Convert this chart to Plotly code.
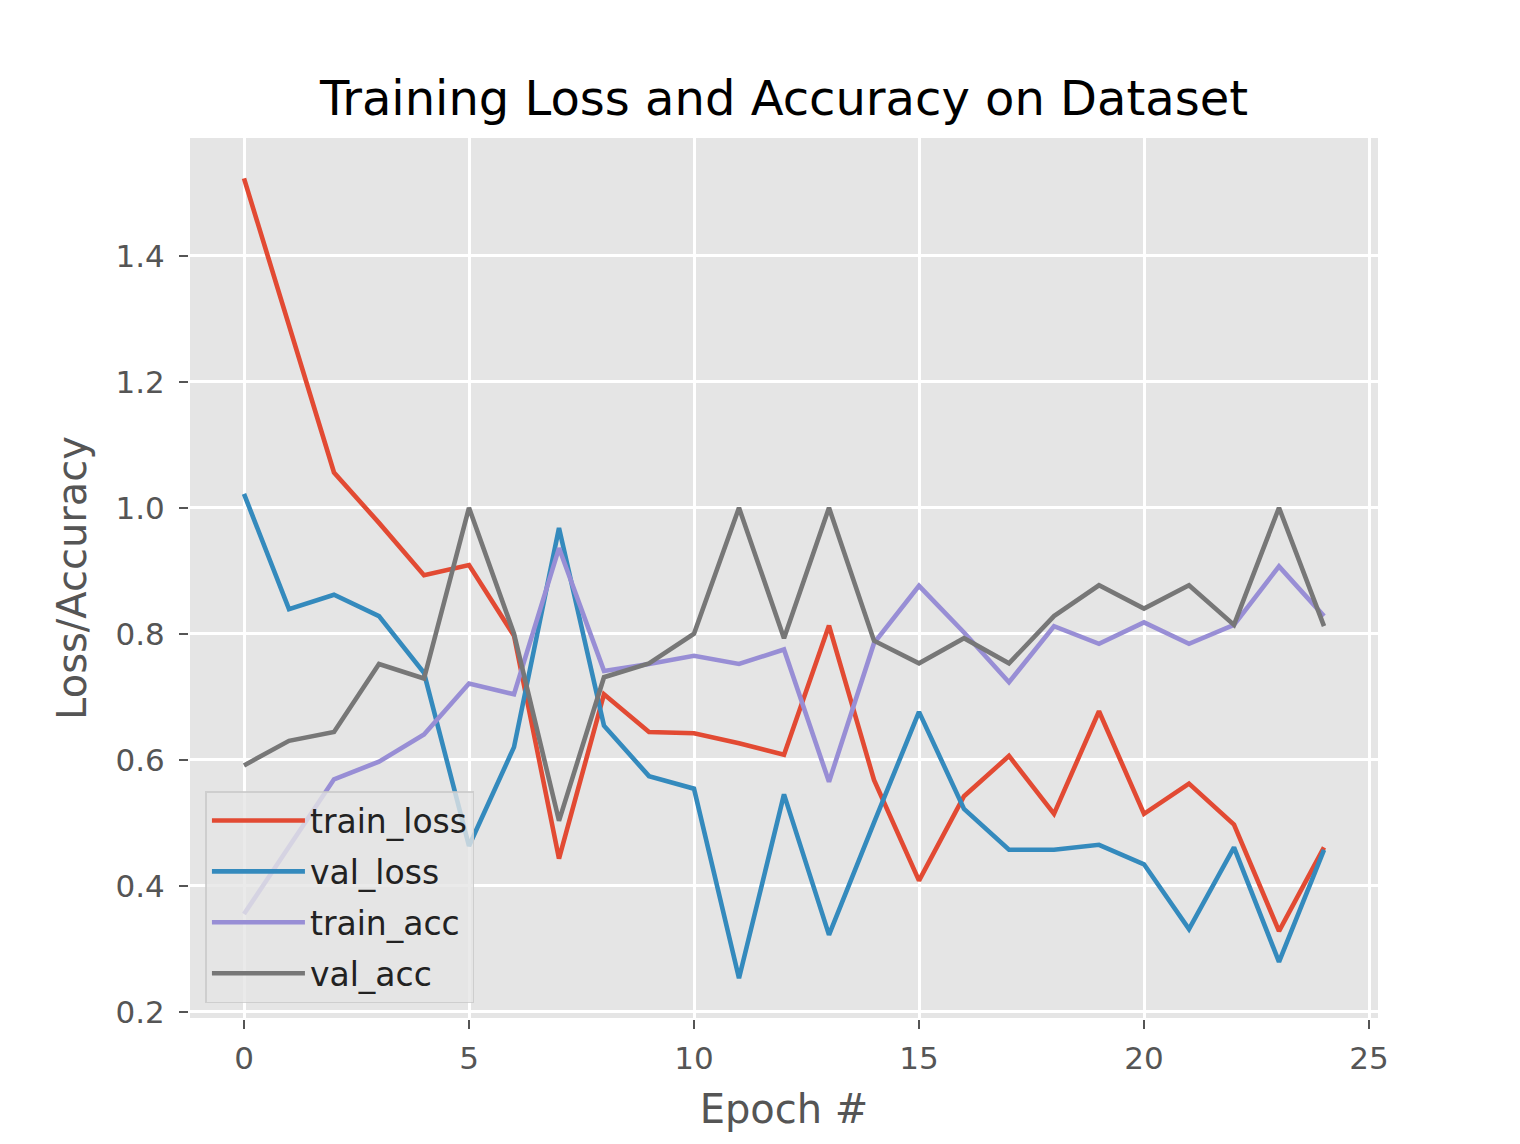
import plotly.graph_objects as go

epochs = list(range(25))
train_loss = [1.523, 1.29, 1.056, 0.976, 0.893, 0.909, 0.797, 0.443, 0.704, 0.644, 0.642, 0.626, 0.608,
              0.813, 0.568, 0.408, 0.542, 0.606, 0.514, 0.677, 0.514, 0.562, 0.497, 0.328, 0.461]
val_loss = [1.022, 0.839, 0.862, 0.828, 0.738, 0.463, 0.620, 0.968, 0.654, 0.574, 0.554, 0.253, 0.545,
            0.322, 0.50, 0.676, 0.522, 0.457, 0.457, 0.465, 0.434, 0.331, 0.461, 0.279, 0.457]
train_acc = [0.355, 0.463, 0.569, 0.597, 0.640, 0.721, 0.704, 0.936, 0.741, 0.752, 0.765, 0.752, 0.775,
             0.565, 0.785, 0.876, 0.802, 0.723, 0.812, 0.784, 0.818, 0.784, 0.814, 0.907, 0.828]
val_acc = [0.591, 0.630, 0.644, 0.752, 0.729, 1.0, 0.80, 0.503, 0.731, 0.753, 0.80, 1.0, 0.793,
           1.0, 0.789, 0.753, 0.793, 0.753, 0.828, 0.877, 0.840, 0.877, 0.814, 1.0, 0.812]

series = [("train_loss", train_loss, "#E24A33"),
          ("val_loss", val_loss, "#348ABD"),
          ("train_acc", train_acc, "#988ED5"),
          ("val_acc", val_acc, "#777777")]

FONT = "DejaVu Sans"
fig = go.Figure()
for name, vals, col in series:
    fig.add_trace(go.Scatter(x=epochs, y=vals, mode="lines", name=name, legendgroup=name,
                             line=dict(color=col, width=4.6)))

fig.update_layout(
    width=1520, height=1144,
    paper_bgcolor="white", plot_bgcolor="#E5E5E5",
    margin=dict(l=182, r=150, t=130, b=134),
    font=dict(family=FONT, color="#555555"),
    title=dict(text="Training Loss and Accuracy on Dataset", x=0.5, xref="paper",
               y=1 - 90 / 1144, yref="container", yanchor="middle", xanchor="center",
               font=dict(size=48, color="black", family=FONT)),
    legend=dict(x=0.013, y=0.017, xanchor="left", yanchor="bottom",
                bgcolor="rgba(229,229,229,0.8)", bordercolor="rgba(200,200,200,0.8)",
                borderwidth=1.5, font=dict(size=33, color="#222222", family=FONT),
                itemwidth=93, traceorder="grouped", tracegroupgap=5),
    showlegend=True,
)
fig.update_xaxes(range=[-1.2, 25.2], tickmode="array", tickvals=[0, 5, 10, 15, 20, 25],
                 showgrid=True, gridcolor="white", gridwidth=2.5, zeroline=False,
                 ticks="outside", ticklen=9, tickwidth=1.5, tickcolor="#555555",
                 tickfont=dict(size=31, color="#555555"), ticklabelstandoff=3,
                 showline=True, linecolor="white", linewidth=2, mirror=True,
                 title=dict(text="Epoch #", font=dict(size=40, color="#555555"), standoff=20))
fig.update_yaxes(range=[0.19, 1.587], tickmode="array", tickvals=[0.2, 0.4, 0.6, 0.8, 1.0, 1.2, 1.4],
                 ticktext=["0.2", "0.4", "0.6", "0.8", "1.0", "1.2", "1.4"],
                 showgrid=True, gridcolor="white", gridwidth=2.5, zeroline=False,
                 ticks="outside", ticklen=9, tickwidth=1.5, tickcolor="#555555",
                 tickfont=dict(size=31, color="#555555"), ticklabelstandoff=8,
                 showline=True, linecolor="white", linewidth=2, mirror=True,
                 title=dict(text="Loss/Accuracy", font=dict(size=40, color="#555555"), standoff=16))

fig.write_html("out.html")
